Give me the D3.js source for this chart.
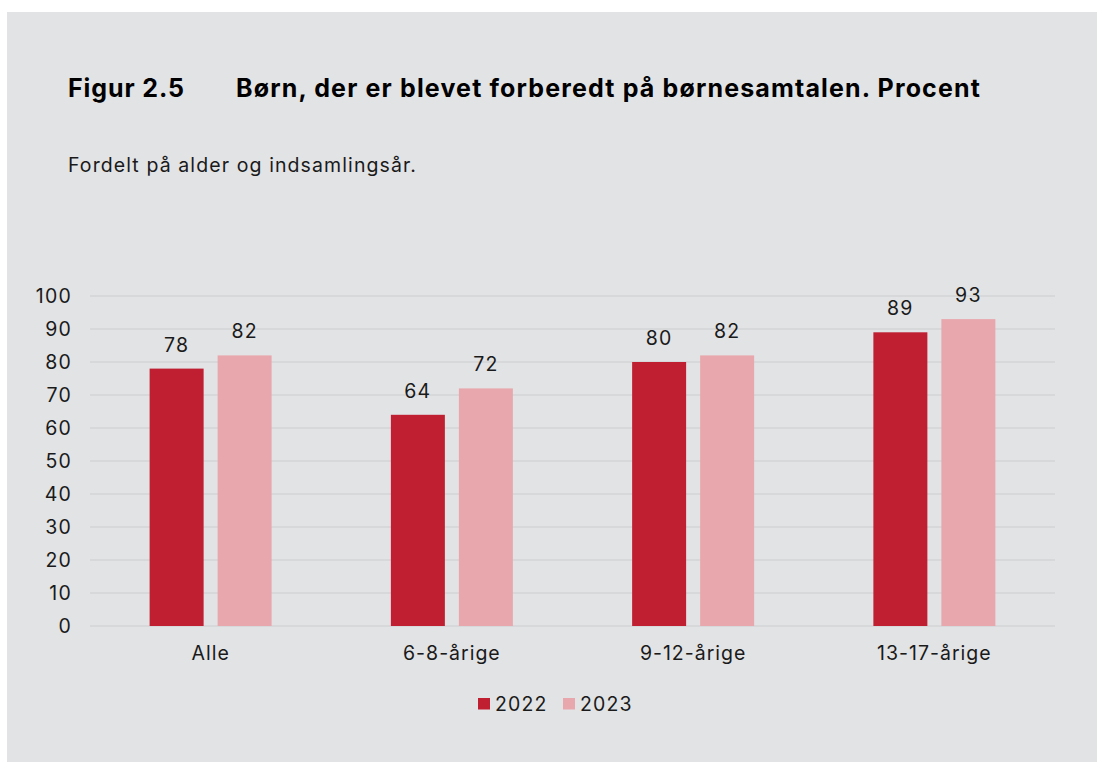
<!DOCTYPE html>
<html>
<head>
<meta charset="utf-8">
<script src="https://cdn.jsdelivr.net/npm/d3@7"></script>
<style>
  html, body { margin: 0; padding: 0; background: #ffffff; }
  svg { display: block; font-family: Inter, "Noto Sans", sans-serif; }
</style>
</head>
<body>
<svg id="chart" width="1097" height="762"></svg>
<script>
const categories = ["Alle", "6-8-årige", "9-12-årige", "13-17-årige"];
const seriesNames = ["2022", "2023"];
const values2022 = [78, 64, 80, 89];
const values2023 = [82, 72, 82, 93];
const yTicks = [0, 10, 20, 30, 40, 50, 60, 70, 80, 90, 100];
const colors = ["#c01f32", "#e8a7ad"];

(function () {
const FONT = "Inter, 'Noto Sans', sans-serif";
const svg = d3.select("#chart");
svg.append("rect").attr("x", 7).attr("y", 12).attr("width", 1090).attr("height", 750).attr("fill", "#e2e3e5");

svg.append("text").attr("x", 68).attr("y", 97).attr("font-size", 25).attr("font-weight", 700)
  .attr("letter-spacing", 0.9).attr("fill", "#000").text("Figur 2.5");
svg.append("text").attr("x", 236).attr("y", 97).attr("font-size", 25).attr("font-weight", 700)
  .attr("letter-spacing", 1.15).attr("fill", "#000").text("Børn, der er blevet forberedt på børnesamtalen. Procent");
svg.append("text").attr("x", 68).attr("y", 172).attr("font-size", 19.5).attr("letter-spacing", 1.1)
  .attr("fill", "#1a1a1a").text("Fordelt på alder og indsamlingsår.");

const pLeft = 90, pRight = 1055, pTop = 296, pBottom = 626;
const x0 = d3.scaleBand().domain(categories).range([pLeft, pRight]).paddingInner(0).paddingOuter(0);
const x1 = d3.scaleBand().domain(seriesNames).range([0, 122]).paddingInner(0.206);
const y = d3.scaleLinear().domain([0, 100]).range([pBottom, pTop]);

// grid
svg.append("g").selectAll("line").data(yTicks).join("line")
  .attr("x1", pLeft).attr("x2", pRight)
  .attr("y1", d => y(d)).attr("y2", d => y(d))
  .attr("stroke", "#d3d4d6").attr("stroke-width", 1.5);

// y axis labels
const yAxis = d3.axisLeft(y).tickValues(yTicks).tickSize(0).tickPadding(0);
const yg = svg.append("g").attr("transform", `translate(72,0)`).call(yAxis);
yg.select(".domain").remove();
yg.selectAll("text").attr("font-size", 19.5).attr("letter-spacing", 1.2).attr("fill", "#1a1a1a").attr("font-family", FONT);

// x axis labels
const xAxis = d3.axisBottom(x0).tickSize(0).tickPadding(0);
const xg = svg.append("g").attr("transform", `translate(0,${pBottom + 20})`).call(xAxis);
xg.select(".domain").remove();
xg.selectAll("text").attr("font-size", 19.5).attr("letter-spacing", 1.0).attr("fill", "#1a1a1a").attr("font-family", FONT);

const data = categories.map((c, i) => ({cat: c, vals: [values2022[i], values2023[i]]}));
const groups = svg.append("g").selectAll("g").data(data).join("g")
  .attr("transform", d => `translate(${x0(d.cat) + (x0.bandwidth() - 122) / 2},0)`);

groups.selectAll("rect").data(d => d.vals.map((v, j) => ({s: seriesNames[j], v, j}))).join("rect")
  .attr("x", d => x1(d.s)).attr("width", x1.bandwidth())
  .attr("y", d => y(d.v)).attr("height", d => y(0) - y(d.v))
  .attr("fill", d => colors[d.j]);

groups.selectAll("text.val").data(d => d.vals.map((v, j) => ({s: seriesNames[j], v, j}))).join("text")
  .attr("class", "val")
  .attr("x", d => x1(d.s) + x1.bandwidth() / 2)
  .attr("y", d => y(d.v) - 17)
  .attr("text-anchor", "middle").attr("font-size", 19.5).attr("letter-spacing", 1.2).attr("fill", "#1a1a1a")
  .text(d => d.v);

// legend
const legend = svg.append("g").attr("transform", "translate(478,703.5)");
const legX = [0, 85];
seriesNames.forEach((s, i) => {
  legend.append("rect").attr("x", legX[i]).attr("y", -5.5).attr("width", 12).attr("height", 11.5).attr("fill", colors[i]);
  legend.append("text").attr("x", legX[i] + 17).attr("y", 7.5).attr("font-size", 19.5).attr("letter-spacing", 1.1)
    .attr("fill", "#1a1a1a").text(s);
});
})();
</script>
</body>
</html>
